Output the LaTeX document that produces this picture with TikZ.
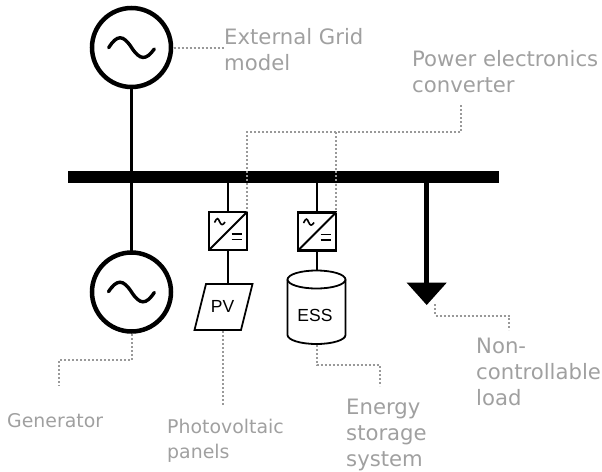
\documentclass[tikz,border=0pt]{standalone}
\usepackage{fontspec}
\setmainfont{DejaVu Sans}
\newfontfamily\arialf{Liberation Sans}
\usetikzlibrary{calc}
\definecolor{lblgray}{HTML}{A0A0A0}
\definecolor{dotgray}{HTML}{999999}
\tikzset{
  wire/.style={draw=black,line width=2.2pt},
  srcring/.style={draw=black,line width=4.5pt,circle,minimum size=79pt,inner sep=0pt,outer sep=0pt,fill=white},
  conv/.style={draw=black,line width=2.2pt,minimum size=38pt,inner sep=0pt,outer sep=0pt,fill=white},
  leader/.style={draw=dotgray,line width=2pt,dash pattern=on 2pt off 2pt},
  lbl/.style={text=lblgray,align=left,anchor=north west,inner sep=0pt,font=\fontsize{21.2}{26}\selectfont},
  lblsmall/.style={text=lblgray,align=left,anchor=north west,inner sep=0pt,font=\fontsize{18.9}{24.5}\selectfont},
  devlbl/.style={inner sep=0pt,font=\arialf\fontsize{17.5}{20}\selectfont},
}
\begin{document}
\begin{tikzpicture}[x=1pt,y=-1pt]
\useasboundingbox (0,0) rectangle (602,471);
% named anchors
\coordinate (busL) at (68,176.7);
\coordinate (busR) at (499,176.7);
\node[srcring] (grid) at (131.5,47.5) {};
\node[srcring] (gen) at (131.5,292) {};
\node[conv] (c1) at (228,231) {};
\node[conv] (c2) at (317,231.5) {};
\coordinate (b1) at (228,177);
\coordinate (b2) at (317,177);
\coordinate (b3) at (426.7,177);
\coordinate (pvTL) at (206,284);
\coordinate (pvTR) at (252.5,284);
\coordinate (pvBR) at (241,330);
\coordinate (pvBL) at (194.5,330);
\coordinate (pvT) at (228,284);
\coordinate (essT) at (317,270.5);
\coordinate (loadT) at (426.7,283);
% wires
\draw[wire] (grid.south) -- (gen.north);
\draw[wire] (b1) -- (c1.north);
\draw[wire] (c1.south) -- (pvT);
\draw[wire] (b2) -- (c2.north);
\draw[wire] (c2.south) -- (essT);
\draw[draw=black,line width=5pt] (b3) -- (loadT);
% leaders behind bus
\coordinate (cj) at (336,132);
\coordinate (cr) at (461,132);
\coordinate (crt) at (461,105);
\coordinate (cl) at (247,132);
\draw[leader] (crt) -- (cr) -- (cl) -- (c1.north east);
\draw[leader] (cj) -- (c2.north east);
% bus
\draw[draw=black,line width=12pt] (busL) -- (busR);
\draw[leader] (247,171) -- (247,183);
\draw[leader] (336,171) -- (336,183);
% sine symbols
\draw[line width=3.4pt,line cap=round] (108.7,47.7) .. controls (117,34.5) and (123,34.5) .. (131.5,47.5) .. controls (140,60.5) and (146,60.5) .. (154.3,49);
\draw[line width=3.4pt,line cap=round] (108.5,291.7) .. controls (117,279) and (123,279) .. (131.5,292) .. controls (140,305) and (146,305) .. (154.3,292.5);
% converter symbols
\foreach \n/\cx/\cy in {c1/228/231,c2/317/231.5}{
  \draw[line width=2pt] (\n.south west) -- (\n.north east);
  \draw[line width=1.6pt] (\cx-13.5,\cy-8.5) .. controls (\cx-11,\cy-13.5) and (\cx-10,\cy-13.5) .. (\cx-8.5,\cy-9.5) .. controls (\cx-7,\cy-5.5) and (\cx-5,\cy-5.5) .. (\cx-3,\cy-9);
  \draw[line width=1.6pt] (\cx+3.5,\cy+3) -- (\cx+14,\cy+3);
  \draw[line width=1.6pt] (\cx+3.5,\cy+8.3) -- (\cx+14,\cy+8.3);
}
% PV
\draw[line width=1.8pt,line join=miter,fill=white] (pvTL) -- (pvTR) -- (pvBR) -- (pvBL) -- cycle;
\node[devlbl] (pvt) at (222.5,306.5) {PV};
% ESS
\draw[line width=1.8pt,fill=white] (287.5,279.5) -- (287.5,335) arc[start angle=180,end angle=360,x radius=29,y radius=-9] -- (345.5,279.5);
\draw[line width=1.8pt,fill=white] (316.5,279.5) ellipse[x radius=29,y radius=9];
\node[devlbl] (esst) at (315,315) {ESS};
% load
\fill (406.7,282.7) -- (446.7,282.7) -- (426.7,305) -- cycle;
% leaders
\draw[leader] (grid.east) ++(2.5,0.5) -- (225,48);
\draw[leader] (gen.south) ++(0,2.5) -- (131.5,360) -- (58.5,360) -- (58.5,386);
\draw[leader] (223,331) -- (223,405);
\draw[leader] (316.5,345) -- (316.5,365) -- (379.5,365) -- (379.5,386);
\draw[leader] (435,304) -- (435,315.5) -- (509,315.5) -- (509,330);
% labels
\node[lbl] (t1) at (224,28) {External Grid\\model};
\node[lbl] (t2) at (412,50) {Power electronics\\converter};
\node[lblsmall] (t3) at (7,413.5) {Generator};
\node[lblsmall] (t4) at (167,419) {Photovoltaic\\panels};
\node[lbl] (t5) at (346,399) {Energy\\storage\\system};
\node[lbl] (t6) at (476,337.5) {Non-\\controllable\\load};
\end{tikzpicture}
\end{document}
